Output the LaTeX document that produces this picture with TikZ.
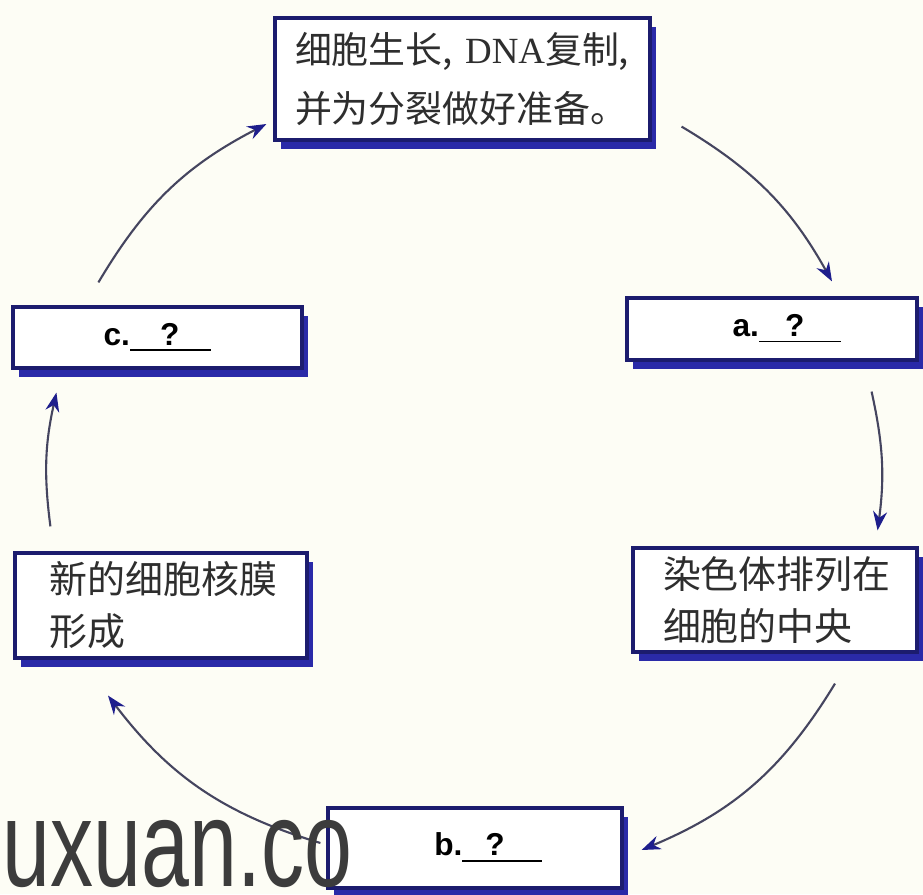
\documentclass[tikz,border=0pt]{standalone}
\usepackage{fontspec}
\setmainfont{Liberation Serif}
\newfontfamily\cjk{Noto Sans CJK SC}
\newfontfamily\labelfont{Liberation Sans}
\usetikzlibrary{arrows.meta, shadows}
\definecolor{paper}{HTML}{FDFDF5}
\definecolor{boxline}{HTML}{1C1C6E}
\definecolor{shadowblue}{HTML}{2A2AA8}
\definecolor{arrowgray}{HTML}{45455F}
\definecolor{arrowblue}{HTML}{1E1E8C}
\definecolor{inkgray}{HTML}{2E2E2E}
\definecolor{markgray}{HTML}{3C3C3C}
\newcommand{\qblank}[2]{\underline{\hspace{#1}?\hspace{#2}}}

\begin{document}
\begin{tikzpicture}[
    every node/.style={text=inkgray},
    stage/.style={draw=boxline, line width=0.9pt, fill=white, inner ysep=0pt,
      general shadow={fill=shadowblue, shadow xshift=0.06cm, shadow yshift=-0.09cm}},
    note/.style={stage, align=left, font=\cjk\fontsize{10.8}{14.8}\selectfont},
    tag/.style={stage, inner sep=0pt, text=black,
      font=\labelfont\bfseries\fontsize{9}{11}\selectfont},
    flow/.style={draw=arrowgray, line width=0.6pt,
      -{Stealth[length=0.19cm, width=0.14cm, color=arrowblue]}}
  ]

  \useasboundingbox[fill=paper] (0,0) rectangle (9.23,8.94);

  % ── Stages round the cycle ──────────────────────────────────────────────
  \node[note, inner xsep=0.2cm, text width=3.35cm, minimum height=1.22cm,
        font=\cjk\fontsize{10.5}{16.8}\selectfont] (growth) at (4.625, 8.15)
        {细胞生长,~{\rmfamily DNA}复制,\\并为分裂做好准备。};
  \node[tag, minimum width=2.90cm, minimum height=0.62cm] (a) at (7.72, 5.65)
        {\hspace*{0.3cm}a.\qblank{0.26cm}{0.37cm}};
  \node[note, inner xsep=0.30cm, text width=2.24cm, minimum height=1.04cm] (metaphase) at (7.75, 2.94)
        {染色体排列在\\细胞的中央};
  \node[tag, minimum width=2.94cm, minimum height=0.80cm] (b) at (4.75, 0.46)
        {\hspace*{0.26cm}b.\qblank{0.23cm}{0.37cm}};
  \node[note, inner xsep=0.35cm, text width=2.22cm, minimum height=1.05cm] (telophase) at (1.61, 2.885)
        {新的细胞核膜\\形成};
  \node[tag, minimum width=2.89cm, minimum height=0.61cm] (c) at (1.575, 5.565)
        {c.\qblank{0.30cm}{0.32cm}};

  % ── Arrows (clockwise) ──────────────────────────────────────────────────
  \draw[flow] ([shift={(0.30,0.15)}]growth.south east) to[bend left=15] ([shift={(0.60,0.15)}]a.north);
  \draw[flow] ([shift={(-0.47,-0.30)}]a.south east) to[bend left=10] ([shift={(-0.41,0.16)}]metaphase.north east);
  \draw[flow] ([shift={(0.60,-0.30)}]metaphase.south) to[bend left=18] ([shift={(0.18,-0.02)}]b.east);
  \draw[flow] ([shift={(-0.06,0.05)}]b.west) to[bend left=18] ([shift={(-0.53,-0.36)}]telophase.south);
  \draw[flow] ([shift={(0.37,0.25)}]telophase.north west) to[bend left=10] ([shift={(0.45,-0.23)}]c.south west);
  \draw[flow] ([shift={(0.87,0.23)}]c.north west) to[bend left=16] ([shift={(-0.07,-0.45)}]growth.west);

  % watermark
  \node[anchor=base west, inner sep=0pt, text=markgray,
        font=\labelfont\fontsize{35}{40}\selectfont] (mark) at (0.02, 0.08)
        {\scalebox{0.7}[1]{uxuan.co}};

\end{tikzpicture}
\end{document}
